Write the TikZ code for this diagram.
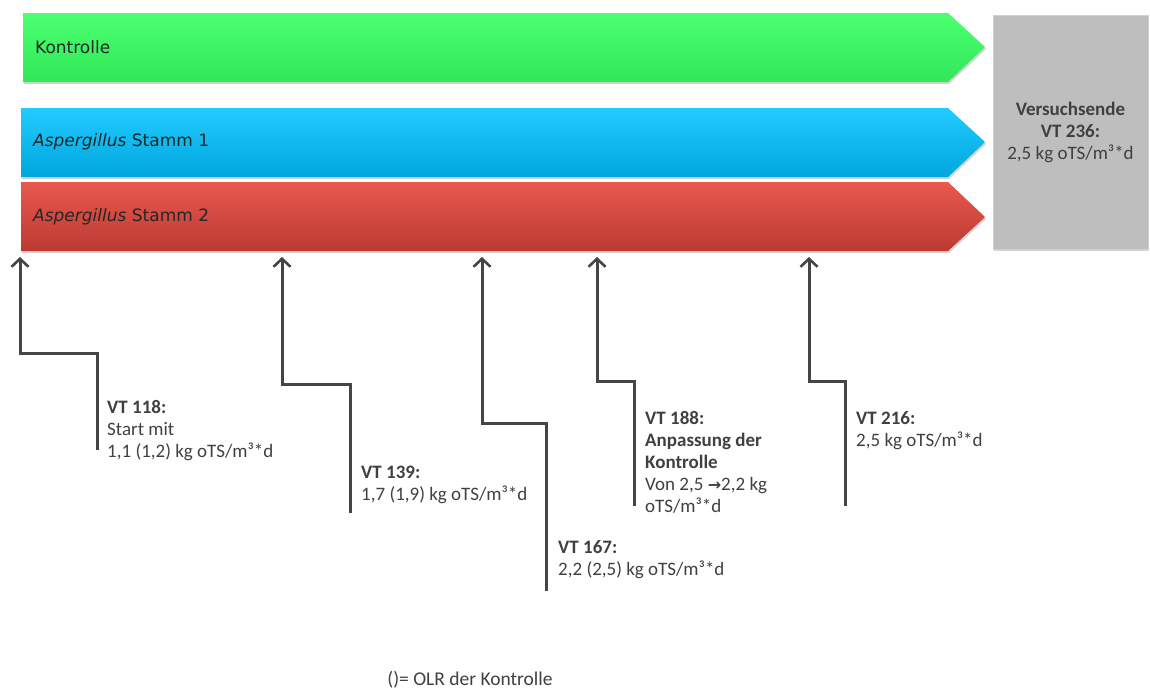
\documentclass[tikz,border=0pt]{standalone}
\usepackage{fontspec}
\setmainfont{Carlito}
\newfontfamily\barfont{DejaVu Sans}
\newfontfamily\symfont{DejaVu Sans}
\usetikzlibrary{arrows.meta,shadows}
\definecolor{txt}{HTML}{404040}
\definecolor{lnc}{HTML}{454545}
\definecolor{gTop}{HTML}{4CFF70}
\definecolor{gBot}{HTML}{30E858}
\definecolor{bTop}{HTML}{22CBFF}
\definecolor{bBot}{HTML}{00A6DE}
\definecolor{rTop}{HTML}{E8584E}
\definecolor{rBot}{HTML}{BC3A33}
\definecolor{grey}{HTML}{BEBEBE}
\tikzset{
  barshape/.style={drop shadow={opacity=0.35,shadow xshift=1pt,shadow yshift=-2pt}},
  bartext/.style={anchor=west,inner sep=0pt,font=\barfont\fontsize{17}{20}\selectfont,text=black!85},
  arr/.style={draw=lnc,line width=3pt,-{Straight Barb[length=8pt,width=17pt,line width=2.6pt]}},
  lbl/.style={anchor=north west,inner sep=0pt,align=left,text=txt,font=\fontsize{19}{22}\selectfont},
}
\begin{document}
\begin{tikzpicture}[x=1pt,y=-1pt]
\useasboundingbox (0,0) rectangle (1150,689);
% bars
\shade[barshape,top color=gTop,bottom color=gBot] (23,13) -- (948,13) -- (985,47) -- (948,82) -- (23,82) -- cycle;
\shade[barshape,top color=bTop,bottom color=bBot] (21,108) -- (948,108) -- (985,142) -- (948,177) -- (21,177) -- cycle;
\shade[barshape,top color=rTop,bottom color=rBot] (21,182) -- (948,182) -- (985,217) -- (948,251) -- (21,251) -- cycle;
\node[bartext] (k) at (35,47) {Kontrolle};
\node[bartext] (s1) at (33,142) {\itshape Aspergillus\upshape\ Stamm 1};
\node[bartext] (s2) at (33,217) {\itshape Aspergillus\upshape\ Stamm 2};
% end box
\node[barshape,draw=grey!70!white,fill=grey,minimum width=155pt,minimum height=234pt,inner sep=0pt,text=txt,align=center,font=\fontsize{19}{22}\selectfont] (end) at (1070.5,132)
  {\textbf{Versuchsende}\\\textbf{VT 236:}\\2,5 kg oTS/m³*d};
% arrow coordinates
\coordinate (t1) at (20,257);  \coordinate (j1) at (97,353);  \coordinate (b1) at (97,450);
\coordinate (t2) at (282,257); \coordinate (j2) at (350,384); \coordinate (b2) at (350,513);
\coordinate (t3) at (482,257); \coordinate (j3) at (546,423); \coordinate (b3) at (546,591);
\coordinate (t4) at (597,257); \coordinate (j4) at (634,381); \coordinate (b4) at (634,506);
\coordinate (t5) at (809,257); \coordinate (j5) at (845,381); \coordinate (b5) at (845,506);
\draw[arr] (b1) -- (j1) -| (t1);
\draw[arr] (b2) -- (j2) -| (t2);
\draw[arr] (b3) -- (j3) -| (t3);
\draw[arr] (b4) -- (j4) -| (t4);
\draw[arr] (b5) -- (j5) -| (t5);
% labels
\node[lbl] (l1) at (107,400) {\textbf{VT 118:}\\Start mit\\1,1 (1,2) kg oTS/m³*d};
\node[lbl] (l2) at (361,466) {\textbf{VT 139:}\\1,7 (1,9) kg oTS/m³*d};
\node[lbl] (l3) at (558,540) {\textbf{VT 167:}\\2,2 (2,5) kg oTS/m³*d};
\node[lbl] (l4) at (645,411) {\textbf{VT 188:}\\\textbf{Anpassung der}\\\textbf{Kontrolle}\\Von 2,5 {\symfont\bfseries\fontsize{16}{16}\selectfont →}2,2 kg\\oTS/m³*d};
\node[lbl] (l5) at (856,411) {\textbf{VT 216:}\\2,5 kg oTS/m³*d};
\node[text=txt,inner sep=0pt,font=\fontsize{19.5}{22}\selectfont] (fn) at (470,680) {()= OLR der Kontrolle};
\end{tikzpicture}
\end{document}
